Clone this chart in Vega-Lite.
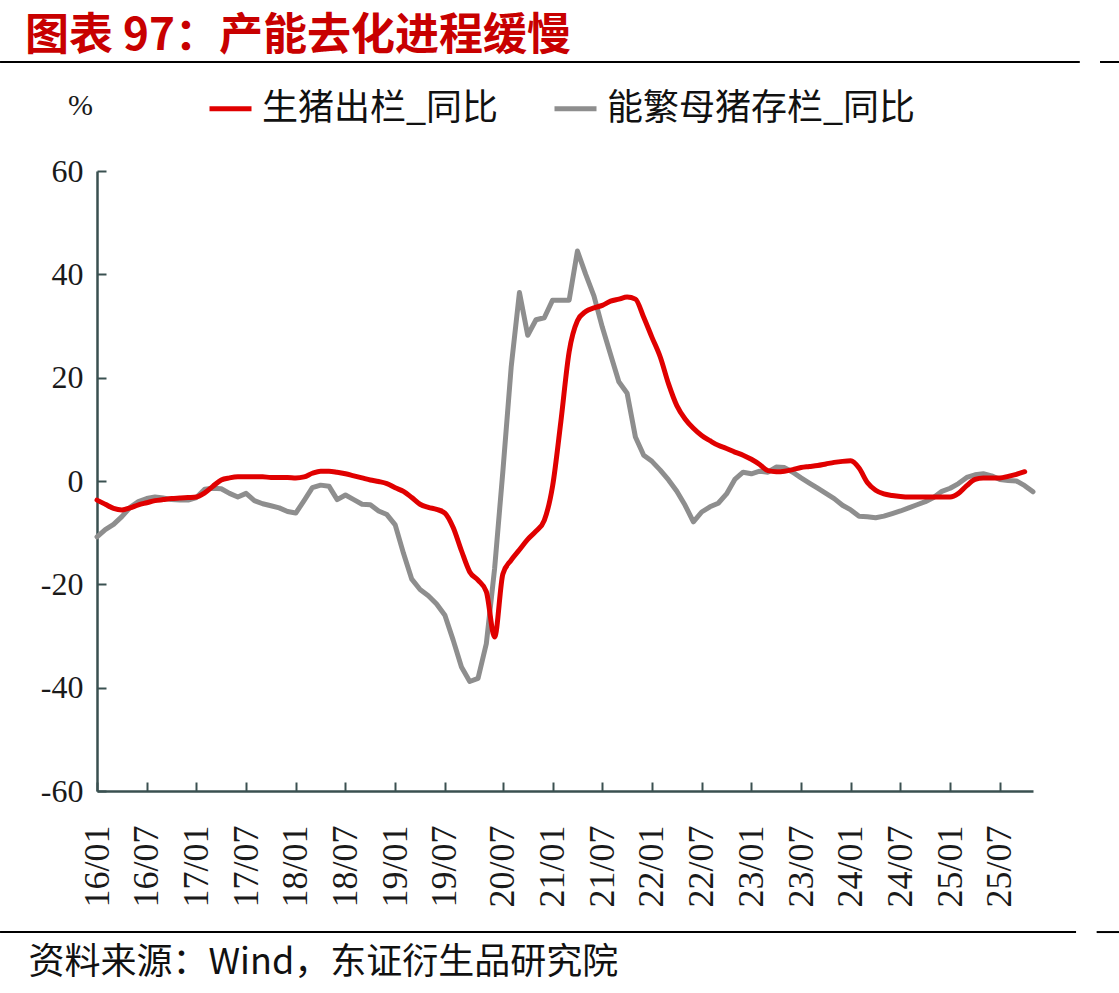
{
  "$schema": "https://vega.github.io/schema/vega-lite/v6.json",
  "autosize": {"type": "none"},
  "width": 936,
  "height": 620,
  "padding": {"left": 97, "top": 171, "right": 86, "bottom": 202},
  "background": "white",
  "config": {"view": {"stroke": null}},
  "title": {
    "text": "图表 97：产能去化进程缓慢",
    "anchor": "start",
    "frame": "group",
    "color": "#C80000",
    "font": "Noto Sans CJK SC",
    "fontSize": 44,
    "fontWeight": "bold",
    "dx": -72,
    "offset": 2
  },
  "datasets": {
    "pig": [
      {"m":"16/01","s":"生猪出栏_同比","v":-3.7},{"m":"16/02","s":"生猪出栏_同比","v":-4.5},{"m":"16/03","s":"生猪出栏_同比","v":-5.3},{"m":"16/04","s":"生猪出栏_同比","v":-5.6},{"m":"16/05","s":"生猪出栏_同比","v":-5.2},{"m":"16/06","s":"生猪出栏_同比","v":-4.6},{"m":"16/07","s":"生猪出栏_同比","v":-4.2},{"m":"16/08","s":"生猪出栏_同比","v":-3.8},{"m":"16/09","s":"生猪出栏_同比","v":-3.6},{"m":"16/10","s":"生猪出栏_同比","v":-3.4},{"m":"16/11","s":"生猪出栏_同比","v":-3.3},{"m":"16/12","s":"生猪出栏_同比","v":-3.2},
      {"m":"17/01","s":"生猪出栏_同比","v":-3.1},{"m":"17/02","s":"生猪出栏_同比","v":-2.3},{"m":"17/03","s":"生猪出栏_同比","v":-1.0},{"m":"17/04","s":"生猪出栏_同比","v":0.2},{"m":"17/05","s":"生猪出栏_同比","v":0.6},{"m":"17/06","s":"生猪出栏_同比","v":0.8},{"m":"17/07","s":"生猪出栏_同比","v":0.8},{"m":"17/08","s":"生猪出栏_同比","v":0.8},{"m":"17/09","s":"生猪出栏_同比","v":0.8},{"m":"17/10","s":"生猪出栏_同比","v":0.7},{"m":"17/11","s":"生猪出栏_同比","v":0.7},{"m":"17/12","s":"生猪出栏_同比","v":0.7},
      {"m":"18/01","s":"生猪出栏_同比","v":0.6},{"m":"18/02","s":"生猪出栏_同比","v":0.8},{"m":"18/03","s":"生猪出栏_同比","v":1.5},{"m":"18/04","s":"生猪出栏_同比","v":1.9},{"m":"18/05","s":"生猪出栏_同比","v":1.9},{"m":"18/06","s":"生猪出栏_同比","v":1.7},{"m":"18/07","s":"生猪出栏_同比","v":1.4},{"m":"18/08","s":"生猪出栏_同比","v":1.0},{"m":"18/09","s":"生猪出栏_同比","v":0.6},{"m":"18/10","s":"生猪出栏_同比","v":0.2},{"m":"18/11","s":"生猪出栏_同比","v":-0.1},{"m":"18/12","s":"生猪出栏_同比","v":-0.5},
      {"m":"19/01","s":"生猪出栏_同比","v":-1.3},{"m":"19/02","s":"生猪出栏_同比","v":-2.0},{"m":"19/03","s":"生猪出栏_同比","v":-3.2},{"m":"19/04","s":"生猪出栏_同比","v":-4.5},{"m":"19/05","s":"生猪出栏_同比","v":-5.1},{"m":"19/06","s":"生猪出栏_同比","v":-5.5},{"m":"19/07","s":"生猪出栏_同比","v":-6.2},{"m":"19/08","s":"生猪出栏_同比","v":-9.0},{"m":"19/09","s":"生猪出栏_同比","v":-13.5},{"m":"19/10","s":"生猪出栏_同比","v":-17.6},{"m":"19/11","s":"生猪出栏_同比","v":-19.2},{"m":"19/12","s":"生猪出栏_同比","v":-21.4},
      {"m":"20/03","s":"生猪出栏_同比","v":-30.2},{"m":"20/07","s":"生猪出栏_同比","v":-18.0},{"m":"20/08","s":"生猪出栏_同比","v":-15.3},{"m":"20/09","s":"生猪出栏_同比","v":-13.3},{"m":"20/10","s":"生猪出栏_同比","v":-11.3},{"m":"20/11","s":"生猪出栏_同比","v":-9.7},{"m":"20/12","s":"生猪出栏_同比","v":-7.6},
      {"m":"21/01","s":"生猪出栏_同比","v":-1.0},{"m":"21/02","s":"生猪出栏_同比","v":11.5},{"m":"21/03","s":"生猪出栏_同比","v":25.0},{"m":"21/04","s":"生猪出栏_同比","v":31.0},{"m":"21/05","s":"生猪出栏_同比","v":32.8},{"m":"21/06","s":"生猪出栏_同比","v":33.5},{"m":"21/07","s":"生猪出栏_同比","v":34.0},{"m":"21/08","s":"生猪出栏_同比","v":34.8},{"m":"21/09","s":"生猪出栏_同比","v":35.2},{"m":"21/10","s":"生猪出栏_同比","v":35.6},{"m":"21/11","s":"生猪出栏_同比","v":35.2},{"m":"21/12","s":"生猪出栏_同比","v":31.7},
      {"m":"22/01","s":"生猪出栏_同比","v":27.8},{"m":"22/02","s":"生猪出栏_同比","v":24.0},{"m":"22/03","s":"生猪出栏_同比","v":18.8},{"m":"22/04","s":"生猪出栏_同比","v":14.6},{"m":"22/05","s":"生猪出栏_同比","v":12.0},{"m":"22/06","s":"生猪出栏_同比","v":10.2},{"m":"22/07","s":"生猪出栏_同比","v":8.8},{"m":"22/08","s":"生猪出栏_同比","v":7.8},{"m":"22/09","s":"生猪出栏_同比","v":6.9},{"m":"22/10","s":"生猪出栏_同比","v":6.3},{"m":"22/11","s":"生猪出栏_同比","v":5.6},{"m":"22/12","s":"生猪出栏_同比","v":5.0},
      {"m":"23/01","s":"生猪出栏_同比","v":4.2},{"m":"23/02","s":"生猪出栏_同比","v":3.2},{"m":"23/03","s":"生猪出栏_同比","v":2.0},{"m":"23/04","s":"生猪出栏_同比","v":1.8},{"m":"23/05","s":"生猪出栏_同比","v":1.9},{"m":"23/06","s":"生猪出栏_同比","v":2.2},{"m":"23/07","s":"生猪出栏_同比","v":2.6},{"m":"23/08","s":"生猪出栏_同比","v":2.8},{"m":"23/09","s":"生猪出栏_同比","v":3.0},{"m":"23/10","s":"生猪出栏_同比","v":3.3},{"m":"23/11","s":"生猪出栏_同比","v":3.6},{"m":"23/12","s":"生猪出栏_同比","v":3.8},
      {"m":"24/01","s":"生猪出栏_同比","v":3.9},{"m":"24/02","s":"生猪出栏_同比","v":2.5},{"m":"24/03","s":"生猪出栏_同比","v":-0.3},{"m":"24/04","s":"生猪出栏_同比","v":-1.8},{"m":"24/05","s":"生猪出栏_同比","v":-2.5},{"m":"24/06","s":"生猪出栏_同比","v":-2.8},{"m":"24/07","s":"生猪出栏_同比","v":-3.0},{"m":"24/08","s":"生猪出栏_同比","v":-3.1},{"m":"24/09","s":"生猪出栏_同比","v":-3.1},{"m":"24/10","s":"生猪出栏_同比","v":-3.1},{"m":"24/11","s":"生猪出栏_同比","v":-3.1},{"m":"24/12","s":"生猪出栏_同比","v":-3.1},
      {"m":"25/01","s":"生猪出栏_同比","v":-3.1},{"m":"25/02","s":"生猪出栏_同比","v":-2.4},{"m":"25/03","s":"生猪出栏_同比","v":-0.9},{"m":"25/04","s":"生猪出栏_同比","v":0.3},{"m":"25/05","s":"生猪出栏_同比","v":0.6},{"m":"25/06","s":"生猪出栏_同比","v":0.6},{"m":"25/07","s":"生猪出栏_同比","v":0.6},{"m":"25/08","s":"生猪出栏_同比","v":0.9},{"m":"25/09","s":"生猪出栏_同比","v":1.3},{"m":"25/10","s":"生猪出栏_同比","v":1.8},
      {"m":"16/01","s":"能繁母猪存栏_同比","v":-10.8},{"m":"16/02","s":"能繁母猪存栏_同比","v":-9.4},{"m":"16/03","s":"能繁母猪存栏_同比","v":-8.4},{"m":"16/04","s":"能繁母猪存栏_同比","v":-6.9},{"m":"16/05","s":"能繁母猪存栏_同比","v":-5.1},{"m":"16/06","s":"能繁母猪存栏_同比","v":-4.0},{"m":"16/07","s":"能繁母猪存栏_同比","v":-3.4},{"m":"16/08","s":"能繁母猪存栏_同比","v":-3.1},{"m":"16/09","s":"能繁母猪存栏_同比","v":-3.3},{"m":"16/10","s":"能繁母猪存栏_同比","v":-3.6},{"m":"16/11","s":"能繁母猪存栏_同比","v":-3.7},{"m":"16/12","s":"能繁母猪存栏_同比","v":-3.7},
      {"m":"17/01","s":"能繁母猪存栏_同比","v":-3.2},{"m":"17/02","s":"能繁母猪存栏_同比","v":-1.6},{"m":"17/03","s":"能繁母猪存栏_同比","v":-1.4},{"m":"17/04","s":"能繁母猪存栏_同比","v":-1.5},{"m":"17/05","s":"能繁母猪存栏_同比","v":-2.4},{"m":"17/06","s":"能繁母猪存栏_同比","v":-3.1},{"m":"17/07","s":"能繁母猪存栏_同比","v":-2.4},{"m":"17/08","s":"能繁母猪存栏_同比","v":-3.8},{"m":"17/09","s":"能繁母猪存栏_同比","v":-4.4},{"m":"17/10","s":"能繁母猪存栏_同比","v":-4.8},{"m":"17/11","s":"能繁母猪存栏_同比","v":-5.2},{"m":"17/12","s":"能繁母猪存栏_同比","v":-5.9},
      {"m":"18/01","s":"能繁母猪存栏_同比","v":-6.2},{"m":"18/02","s":"能繁母猪存栏_同比","v":-3.8},{"m":"18/03","s":"能繁母猪存栏_同比","v":-1.3},{"m":"18/04","s":"能繁母猪存栏_同比","v":-0.8},{"m":"18/05","s":"能繁母猪存栏_同比","v":-1.0},{"m":"18/06","s":"能繁母猪存栏_同比","v":-3.6},{"m":"18/07","s":"能繁母猪存栏_同比","v":-2.7},{"m":"18/08","s":"能繁母猪存栏_同比","v":-3.6},{"m":"18/09","s":"能繁母猪存栏_同比","v":-4.5},{"m":"18/10","s":"能繁母猪存栏_同比","v":-4.6},{"m":"18/11","s":"能繁母猪存栏_同比","v":-5.8},{"m":"18/12","s":"能繁母猪存栏_同比","v":-6.5},
      {"m":"19/01","s":"能繁母猪存栏_同比","v":-8.5},{"m":"19/02","s":"能繁母猪存栏_同比","v":-14.0},{"m":"19/03","s":"能繁母猪存栏_同比","v":-19.0},{"m":"19/04","s":"能繁母猪存栏_同比","v":-21.0},{"m":"19/05","s":"能繁母猪存栏_同比","v":-22.2},{"m":"19/06","s":"能繁母猪存栏_同比","v":-23.8},{"m":"19/07","s":"能繁母猪存栏_同比","v":-26.0},{"m":"19/08","s":"能繁母猪存栏_同比","v":-30.8},{"m":"19/09","s":"能繁母猪存栏_同比","v":-36.0},{"m":"19/10","s":"能繁母猪存栏_同比","v":-38.8},{"m":"19/11","s":"能繁母猪存栏_同比","v":-38.2},{"m":"19/12","s":"能繁母猪存栏_同比","v":-31.5},
      {"m":"20/03","s":"能繁母猪存栏_同比","v":-17.0},{"m":"20/07","s":"能繁母猪存栏_同比","v":1.9},{"m":"20/08","s":"能繁母猪存栏_同比","v":22.0},{"m":"20/09","s":"能繁母猪存栏_同比","v":36.5},{"m":"20/10","s":"能繁母猪存栏_同比","v":28.2},{"m":"20/11","s":"能繁母猪存栏_同比","v":31.2},{"m":"20/12","s":"能繁母猪存栏_同比","v":31.6},
      {"m":"21/01","s":"能繁母猪存栏_同比","v":35.0},{"m":"21/02","s":"能繁母猪存栏_同比","v":35.0},{"m":"21/03","s":"能繁母猪存栏_同比","v":35.0},{"m":"21/04","s":"能繁母猪存栏_同比","v":44.5},{"m":"21/05","s":"能繁母猪存栏_同比","v":40.0},{"m":"21/06","s":"能繁母猪存栏_同比","v":35.8},{"m":"21/07","s":"能繁母猪存栏_同比","v":29.8},{"m":"21/08","s":"能繁母猪存栏_同比","v":24.5},{"m":"21/09","s":"能繁母猪存栏_同比","v":19.2},{"m":"21/10","s":"能繁母猪存栏_同比","v":17.0},{"m":"21/11","s":"能繁母猪存栏_同比","v":8.5},{"m":"21/12","s":"能繁母猪存栏_同比","v":5.0},
      {"m":"22/01","s":"能繁母猪存栏_同比","v":3.8},{"m":"22/02","s":"能繁母猪存栏_同比","v":2.1},{"m":"22/03","s":"能繁母猪存栏_同比","v":0.2},{"m":"22/04","s":"能繁母猪存栏_同比","v":-2.0},{"m":"22/05","s":"能繁母猪存栏_同比","v":-4.7},{"m":"22/06","s":"能繁母猪存栏_同比","v":-7.9},{"m":"22/07","s":"能繁母猪存栏_同比","v":-6.0},{"m":"22/08","s":"能繁母猪存栏_同比","v":-5.0},{"m":"22/09","s":"能繁母猪存栏_同比","v":-4.3},{"m":"22/10","s":"能繁母猪存栏_同比","v":-2.5},{"m":"22/11","s":"能繁母猪存栏_同比","v":0.3},{"m":"22/12","s":"能繁母猪存栏_同比","v":1.7},
      {"m":"23/01","s":"能繁母猪存栏_同比","v":1.4},{"m":"23/02","s":"能繁母猪存栏_同比","v":1.9},{"m":"23/03","s":"能繁母猪存栏_同比","v":1.7},{"m":"23/04","s":"能繁母猪存栏_同比","v":2.7},{"m":"23/05","s":"能繁母猪存栏_同比","v":2.6},{"m":"23/06","s":"能繁母猪存栏_同比","v":1.7},{"m":"23/07","s":"能繁母猪存栏_同比","v":0.6},{"m":"23/08","s":"能繁母猪存栏_同比","v":-0.4},{"m":"23/09","s":"能繁母猪存栏_同比","v":-1.4},{"m":"23/10","s":"能繁母猪存栏_同比","v":-2.4},{"m":"23/11","s":"能繁母猪存栏_同比","v":-3.4},{"m":"23/12","s":"能繁母猪存栏_同比","v":-4.7},
      {"m":"24/01","s":"能繁母猪存栏_同比","v":-5.6},{"m":"24/02","s":"能繁母猪存栏_同比","v":-6.8},{"m":"24/03","s":"能繁母猪存栏_同比","v":-6.9},{"m":"24/04","s":"能繁母猪存栏_同比","v":-7.1},{"m":"24/05","s":"能繁母猪存栏_同比","v":-6.8},{"m":"24/06","s":"能繁母猪存栏_同比","v":-6.3},{"m":"24/07","s":"能繁母猪存栏_同比","v":-5.8},{"m":"24/08","s":"能繁母猪存栏_同比","v":-5.2},{"m":"24/09","s":"能繁母猪存栏_同比","v":-4.6},{"m":"24/10","s":"能繁母猪存栏_同比","v":-4.0},{"m":"24/11","s":"能繁母猪存栏_同比","v":-3.2},{"m":"24/12","s":"能繁母猪存栏_同比","v":-2.0},
      {"m":"25/01","s":"能繁母猪存栏_同比","v":-1.4},{"m":"25/02","s":"能繁母猪存栏_同比","v":-0.5},{"m":"25/03","s":"能繁母猪存栏_同比","v":0.7},{"m":"25/04","s":"能繁母猪存栏_同比","v":1.2},{"m":"25/05","s":"能繁母猪存栏_同比","v":1.4},{"m":"25/06","s":"能繁母猪存栏_同比","v":1.0},{"m":"25/07","s":"能繁母猪存栏_同比","v":0.3},{"m":"25/08","s":"能繁母猪存栏_同比","v":0.1},{"m":"25/09","s":"能繁母猪存栏_同比","v":0.0},{"m":"25/10","s":"能繁母猪存栏_同比","v":-0.9},{"m":"25/11","s":"能繁母猪存栏_同比","v":-2.1}
    ]
  },
  "resolve": {"scale": {"x": "independent"}, "axis": {"x": "independent"}},
  "layer": [
    {
      "data": {"name": "pig"},
      "layer": [
        {
          "transform": [{"filter": "datum.s === '能繁母猪存栏_同比'"}],
          "mark": {"type": "line", "strokeWidth": 5, "strokeJoin": "round", "strokeCap": "round"}
        },
        {
          "transform": [{"filter": "datum.s === '生猪出栏_同比'"}],
          "mark": {"type": "line", "strokeWidth": 5, "strokeJoin": "round", "strokeCap": "round", "interpolate": "monotone"}
        }
      ],
      "encoding": {
        "x": {
          "field": "m", "type": "ordinal", "sort": "ascending",
          "scale": {"type": "point", "padding": 0},
          "axis": {
            "title": "资料来源：Wind，东证衍生品研究院",
            "titleFont": "Noto Sans CJK SC", "titleFontSize": 36, "titleFontWeight": "normal", "titleColor": "#111111",
            "titleX": -69, "titleY": 171, "titleAlign": "left", "titleBaseline": "middle", "titleAnchor": "start",
            "values": ["16/01","16/07","17/01","17/07","18/01","18/07","19/01","19/07","20/07","21/01","21/07","22/01","22/07","23/01","23/07","24/01","24/07","25/01","25/07"],
            "labelAngle": 270, "labelFont": "Liberation Serif", "labelFontSize": 36, "labelColor": "#1a1a1a",
            "labelPadding": 43, "tickSize": -9, "tickWidth": 2, "tickColor": "#3a5050",
            "domainColor": "#3a5050", "domainWidth": 2.5, "grid": false, "labelOverlap": false
          }
        },
        "y": {
          "field": "v", "type": "quantitative",
          "scale": {"domain": [-60, 60], "nice": false, "zero": false},
          "axis": {
            "title": "%", "titleAngle": 0, "titleX": -17, "titleY": -66, "titleAlign": "center", "titleBaseline": "middle",
            "titleFont": "Liberation Serif", "titleFontSize": 30, "titleFontWeight": "normal", "titleColor": "#1a1a1a",
            "values": [-60, -40, -20, 0, 20, 40, 60],
            "labelExpr": "'' + datum.value",
            "labelFont": "Liberation Serif", "labelFontSize": 32, "labelColor": "#1a1a1a",
            "labelPadding": 23, "tickSize": -9, "tickWidth": 2, "tickColor": "#3a5050",
            "domainColor": "#3a5050", "domainWidth": 2.5, "grid": false
          }
        },
        "color": {
          "field": "s", "type": "nominal",
          "scale": {"domain": ["生猪出栏_同比", "能繁母猪存栏_同比"], "range": ["#E00000", "#8E8E8E"]},
          "legend": {
            "orient": "none", "legendX": 110, "legendY": -86, "direction": "horizontal", "title": null,
            "symbolType": "stroke", "symbolSize": 1764, "symbolStrokeWidth": 5,
            "labelFont": "Noto Sans CJK SC", "labelFontSize": 36, "labelColor": "#111111", "labelLimit": 600,
            "labelOffset": 8, "columnPadding": 45, "padding": 0
          }
        }
      }
    },
    {
      "data": {"values": [{}]},
      "mark": {"type": "rule", "color": "#000000", "strokeWidth": 2},
      "encoding": {
        "x": {"datum": -0.1036, "type": "quantitative", "scale": {"domain": [0, 1]}, "axis": null},
        "x2": {"datum": 1.05},
        "y": {"datum": 81.1, "type": "quantitative"}
      }
    },
    {
      "data": {"values": [{}]},
      "mark": {"type": "rule", "color": "#000000", "strokeWidth": 2},
      "encoding": {
        "x": {"datum": 1.0716, "type": "quantitative", "scale": {"domain": [0, 1]}, "axis": null},
        "x2": {"datum": 1.092},
        "y": {"datum": 81.1, "type": "quantitative"}
      }
    },
    {
      "data": {"values": [{}]},
      "mark": {"type": "rule", "color": "#000000", "strokeWidth": 2},
      "encoding": {
        "x": {"datum": -0.1036, "type": "quantitative", "scale": {"domain": [0, 1]}, "axis": null},
        "x2": {"datum": 1.046},
        "y": {"datum": -87.3, "type": "quantitative"}
      }
    },
    {
      "data": {"values": [{}]},
      "mark": {"type": "rule", "color": "#000000", "strokeWidth": 2},
      "encoding": {
        "x": {"datum": 1.068, "type": "quantitative", "scale": {"domain": [0, 1]}, "axis": null},
        "x2": {"datum": 1.092},
        "y": {"datum": -87.3, "type": "quantitative"}
      }
    }
  ]
}
